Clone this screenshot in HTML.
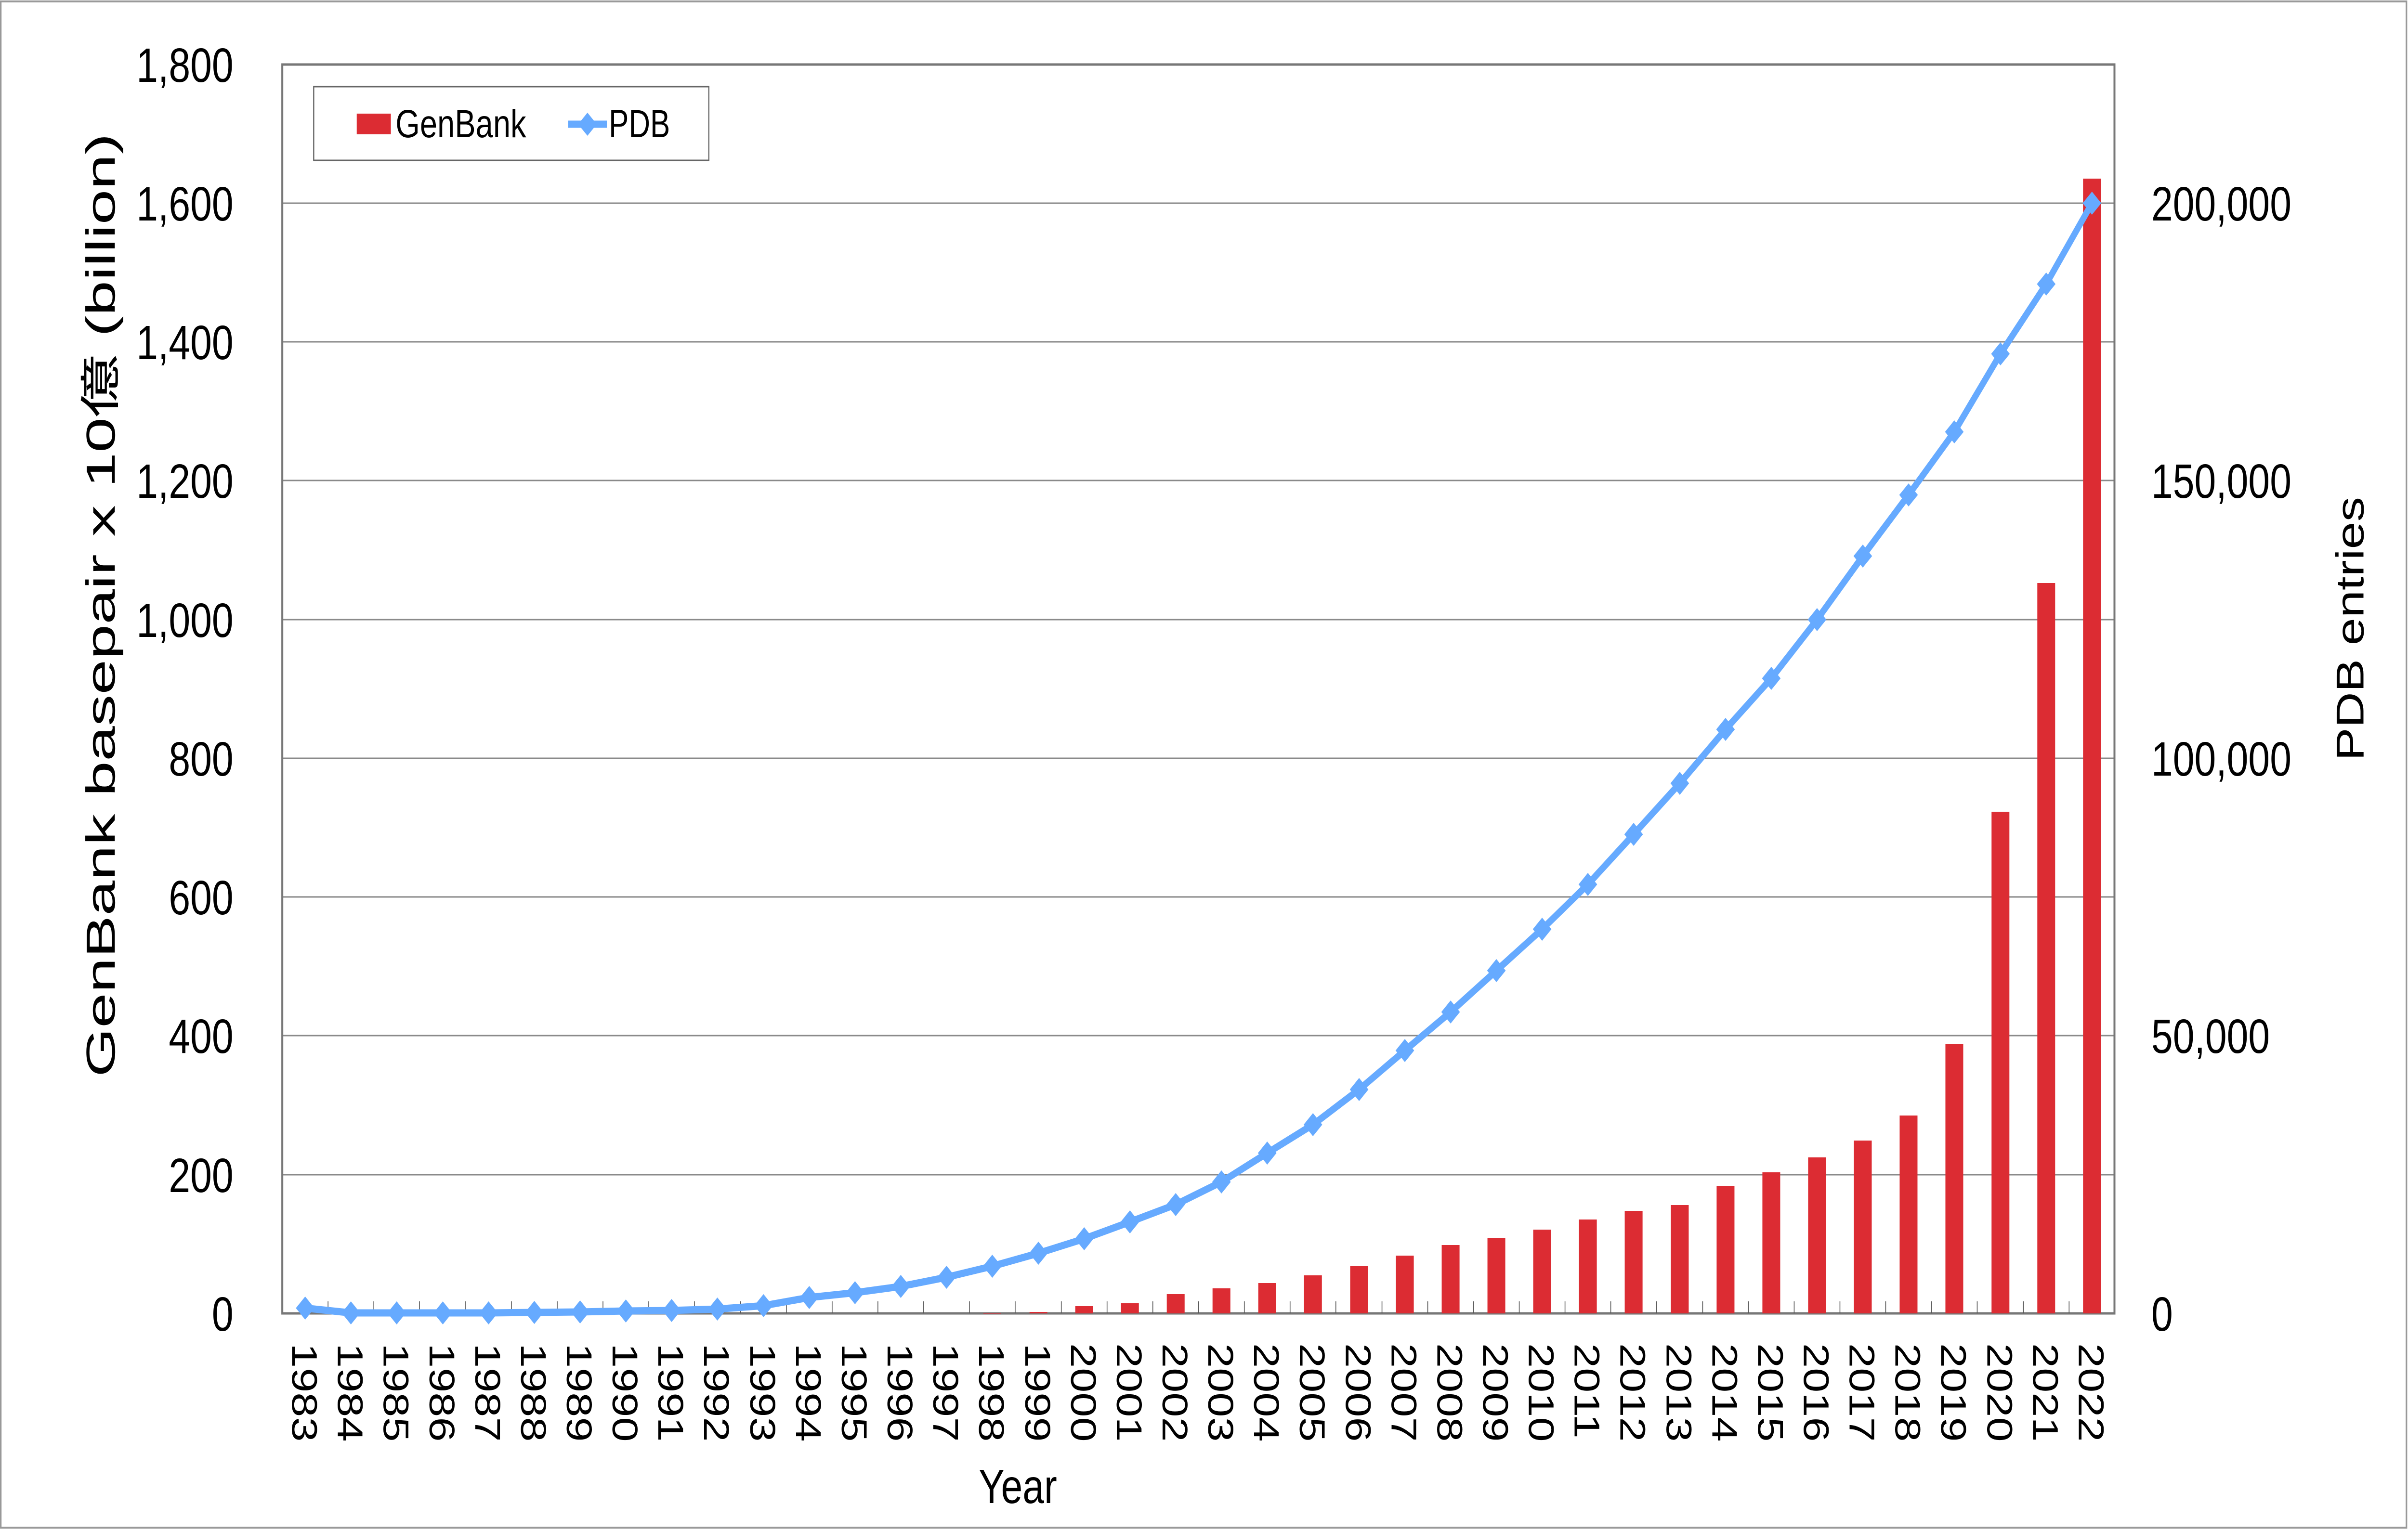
<!DOCTYPE html>
<html><head><meta charset="utf-8"><style>
html,body{margin:0;padding:0;background:#fff;width:100%;height:100%;overflow:hidden;}
svg{display:block;width:100vw;height:100vh;}
text{font-family:"Liberation Sans","Noto Sans CJK JP",sans-serif;fill:#000;}
</style></head><body>
<svg viewBox="0 0 6210 3180" preserveAspectRatio="none" xmlns="http://www.w3.org/2000/svg">
<defs><path id="d" d="M0,-24 L24,0 L0,24 L-24,0 Z" fill="#66AAFF"/></defs>
<rect x="2" y="3" width="6204" height="3170" fill="#fff" stroke="#999" stroke-width="4"/>
<g stroke="#8a8a8a" stroke-width="3">
<line x1="728" y1="422" x2="5453" y2="422"/>
<line x1="728" y1="710" x2="5453" y2="710"/>
<line x1="728" y1="998" x2="5453" y2="998"/>
<line x1="728" y1="1287" x2="5453" y2="1287"/>
<line x1="728" y1="1575" x2="5453" y2="1575"/>
<line x1="728" y1="1863" x2="5453" y2="1863"/>
<line x1="728" y1="2151" x2="5453" y2="2151"/>
<line x1="728" y1="2440" x2="5453" y2="2440"/>
</g>
<rect x="728" y="134" width="4725" height="2594" fill="none" stroke="#777" stroke-width="5"/>
<g fill="#DC2C33">
<rect x="2536" y="2727" width="46" height="1.4"/>
<rect x="2655" y="2725" width="46" height="3"/>
<rect x="2773" y="2713" width="46" height="15"/>
<rect x="2891" y="2707" width="46" height="21"/>
<rect x="3009" y="2688" width="46" height="40"/>
<rect x="3127" y="2676" width="46" height="52"/>
<rect x="3245" y="2665" width="46" height="63"/>
<rect x="3363" y="2649" width="46" height="79"/>
<rect x="3482" y="2630" width="46" height="98"/>
<rect x="3600" y="2608" width="46" height="120"/>
<rect x="3718" y="2586" width="46" height="142"/>
<rect x="3836" y="2571" width="46" height="157"/>
<rect x="3954" y="2554" width="46" height="174"/>
<rect x="4072" y="2533" width="46" height="195"/>
<rect x="4190" y="2515" width="46" height="213"/>
<rect x="4309" y="2503" width="46" height="225"/>
<rect x="4427" y="2463" width="46" height="265"/>
<rect x="4545" y="2435" width="46" height="293"/>
<rect x="4663" y="2404" width="46" height="324"/>
<rect x="4781" y="2369" width="46" height="359"/>
<rect x="4899" y="2317" width="46" height="411"/>
<rect x="5017" y="2169" width="46" height="559"/>
<rect x="5136" y="1686" width="46" height="1042"/>
<rect x="5254" y="1211" width="46" height="1517"/>
<rect x="5372" y="371" width="46" height="2357"/>
</g>
<g stroke="#555" stroke-width="2">
<line x1="846" y1="2703" x2="846" y2="2728"/><line x1="964" y1="2703" x2="964" y2="2728"/><line x1="1082" y1="2703" x2="1082" y2="2728"/><line x1="1201" y1="2703" x2="1201" y2="2728"/><line x1="1319" y1="2703" x2="1319" y2="2728"/><line x1="1437" y1="2703" x2="1437" y2="2728"/><line x1="1555" y1="2703" x2="1555" y2="2728"/><line x1="1673" y1="2703" x2="1673" y2="2728"/><line x1="1791" y1="2703" x2="1791" y2="2728"/><line x1="1910" y1="2703" x2="1910" y2="2728"/>
<line x1="2028" y1="2703" x2="2028" y2="2728"/><line x1="2146" y1="2703" x2="2146" y2="2728"/><line x1="2264" y1="2703" x2="2264" y2="2728"/><line x1="2382" y1="2703" x2="2382" y2="2728"/><line x1="2500" y1="2703" x2="2500" y2="2728"/><line x1="2618" y1="2703" x2="2618" y2="2728"/><line x1="2737" y1="2703" x2="2737" y2="2728"/><line x1="2855" y1="2703" x2="2855" y2="2728"/><line x1="2973" y1="2703" x2="2973" y2="2728"/><line x1="3091" y1="2703" x2="3091" y2="2728"/>
<line x1="3209" y1="2703" x2="3209" y2="2728"/><line x1="3327" y1="2703" x2="3327" y2="2728"/><line x1="3445" y1="2703" x2="3445" y2="2728"/><line x1="3564" y1="2703" x2="3564" y2="2728"/><line x1="3682" y1="2703" x2="3682" y2="2728"/><line x1="3800" y1="2703" x2="3800" y2="2728"/><line x1="3918" y1="2703" x2="3918" y2="2728"/><line x1="4036" y1="2703" x2="4036" y2="2728"/><line x1="4154" y1="2703" x2="4154" y2="2728"/><line x1="4272" y1="2703" x2="4272" y2="2728"/>
<line x1="4391" y1="2703" x2="4391" y2="2728"/><line x1="4509" y1="2703" x2="4509" y2="2728"/><line x1="4627" y1="2703" x2="4627" y2="2728"/><line x1="4745" y1="2703" x2="4745" y2="2728"/><line x1="4863" y1="2703" x2="4863" y2="2728"/><line x1="4981" y1="2703" x2="4981" y2="2728"/><line x1="5099" y1="2703" x2="5099" y2="2728"/><line x1="5218" y1="2703" x2="5218" y2="2728"/><line x1="5336" y1="2703" x2="5336" y2="2728"/>
</g>
<polyline fill="none" stroke="#66AAFF" stroke-width="15" stroke-linejoin="round" points="787,2717 905,2727 1023,2727 1142,2727 1260,2727 1378,2726 1496,2725 1614,2723 1732,2722 1850,2719 1969,2712 2087,2695 2205,2685 2323,2672 2441,2653 2559,2630 2678,2603 2796,2573 2914,2538 3032,2502 3150,2455 3268,2395 3386,2336 3505,2263 3623,2182 3741,2102 3859,2016 3977,1930 4095,1837 4213,1733 4332,1627 4450,1515 4568,1409 4686,1287 4804,1155 4922,1028 5040,897 5159,735 5277,590 5395,422"/>
<g>
<use href="#d" x="787" y="2717"/><use href="#d" x="905" y="2727"/><use href="#d" x="1023" y="2727"/><use href="#d" x="1142" y="2727"/><use href="#d" x="1260" y="2727"/><use href="#d" x="1378" y="2726"/><use href="#d" x="1496" y="2725"/><use href="#d" x="1614" y="2723"/><use href="#d" x="1732" y="2722"/><use href="#d" x="1850" y="2719"/>
<use href="#d" x="1969" y="2712"/><use href="#d" x="2087" y="2695"/><use href="#d" x="2205" y="2685"/><use href="#d" x="2323" y="2672"/><use href="#d" x="2441" y="2653"/><use href="#d" x="2559" y="2630"/><use href="#d" x="2678" y="2603"/><use href="#d" x="2796" y="2573"/><use href="#d" x="2914" y="2538"/><use href="#d" x="3032" y="2502"/>
<use href="#d" x="3150" y="2455"/><use href="#d" x="3268" y="2395"/><use href="#d" x="3386" y="2336"/><use href="#d" x="3505" y="2263"/><use href="#d" x="3623" y="2182"/><use href="#d" x="3741" y="2102"/><use href="#d" x="3859" y="2016"/><use href="#d" x="3977" y="1930"/><use href="#d" x="4095" y="1837"/><use href="#d" x="4213" y="1733"/>
<use href="#d" x="4332" y="1627"/><use href="#d" x="4450" y="1515"/><use href="#d" x="4568" y="1409"/><use href="#d" x="4686" y="1287"/><use href="#d" x="4804" y="1155"/><use href="#d" x="4922" y="1028"/><use href="#d" x="5040" y="897"/><use href="#d" x="5159" y="735"/><use href="#d" x="5277" y="590"/><use href="#d" x="5395" y="422"/>
</g>
<g font-size="100" text-anchor="end">
<text x="602" y="170">1,800</text>
<text x="602" y="458">1,600</text>
<text x="602" y="746">1,400</text>
<text x="602" y="1034">1,200</text>
<text x="602" y="1323">1,000</text>
<text x="602" y="1611">800</text>
<text x="602" y="1899">600</text>
<text x="602" y="2187">400</text>
<text x="602" y="2476">200</text>
<text x="602" y="2764">0</text>
</g>
<g font-size="100">
<text x="5548" y="2764">0</text>
<text x="5548" y="2187">50,000</text>
<text x="5548" y="1611">100,000</text>
<text x="5548" y="1034">150,000</text>
<text x="5548" y="458">200,000</text>
</g>
<g font-size="92">
<text transform="translate(753,2790) rotate(90)">1983</text>
<text transform="translate(871,2790) rotate(90)">1984</text>
<text transform="translate(989,2790) rotate(90)">1985</text>
<text transform="translate(1108,2790) rotate(90)">1986</text>
<text transform="translate(1226,2790) rotate(90)">1987</text>
<text transform="translate(1344,2790) rotate(90)">1988</text>
<text transform="translate(1462,2790) rotate(90)">1989</text>
<text transform="translate(1580,2790) rotate(90)">1990</text>
<text transform="translate(1698,2790) rotate(90)">1991</text>
<text transform="translate(1816,2790) rotate(90)">1992</text>
<text transform="translate(1935,2790) rotate(90)">1993</text>
<text transform="translate(2053,2790) rotate(90)">1994</text>
<text transform="translate(2171,2790) rotate(90)">1995</text>
<text transform="translate(2289,2790) rotate(90)">1996</text>
<text transform="translate(2407,2790) rotate(90)">1997</text>
<text transform="translate(2525,2790) rotate(90)">1998</text>
<text transform="translate(2644,2790) rotate(90)">1999</text>
<text transform="translate(2762,2790) rotate(90)">2000</text>
<text transform="translate(2880,2790) rotate(90)">2001</text>
<text transform="translate(2998,2790) rotate(90)">2002</text>
<text transform="translate(3116,2790) rotate(90)">2003</text>
<text transform="translate(3234,2790) rotate(90)">2004</text>
<text transform="translate(3352,2790) rotate(90)">2005</text>
<text transform="translate(3471,2790) rotate(90)">2006</text>
<text transform="translate(3589,2790) rotate(90)">2007</text>
<text transform="translate(3707,2790) rotate(90)">2008</text>
<text transform="translate(3825,2790) rotate(90)">2009</text>
<text transform="translate(3943,2790) rotate(90)">2010</text>
<text transform="translate(4061,2790) rotate(90)">2011</text>
<text transform="translate(4179,2790) rotate(90)">2012</text>
<text transform="translate(4298,2790) rotate(90)">2013</text>
<text transform="translate(4416,2790) rotate(90)">2014</text>
<text transform="translate(4534,2790) rotate(90)">2015</text>
<text transform="translate(4652,2790) rotate(90)">2016</text>
<text transform="translate(4770,2790) rotate(90)">2017</text>
<text transform="translate(4888,2790) rotate(90)">2018</text>
<text transform="translate(5006,2790) rotate(90)">2019</text>
<text transform="translate(5125,2790) rotate(90)">2020</text>
<text transform="translate(5243,2790) rotate(90)">2021</text>
<text transform="translate(5361,2790) rotate(90)">2022</text>
</g>
<text transform="translate(296,1257) rotate(-90)" font-size="105" text-anchor="middle" textLength="1960" lengthAdjust="spacingAndGlyphs">GenBank basepair x 10億 (billion)</text>
<text transform="translate(6095,1306) rotate(-90)" font-size="100" text-anchor="middle" textLength="548" lengthAdjust="spacingAndGlyphs">PDB entries</text>
<text x="2625" y="3122" font-size="100" text-anchor="middle">Year</text>
<rect x="809" y="180" width="1019" height="153" fill="#fff" stroke="#666" stroke-width="3"/>
<rect x="920" y="236" width="88" height="43" fill="#DC2C33"/>
<text x="1020" y="285" font-size="82" textLength="337" lengthAdjust="spacingAndGlyphs">GenBank</text>
<line x1="1465" y1="258" x2="1565" y2="258" stroke="#66AAFF" stroke-width="15"/>
<use href="#d" x="1515" y="258"/>
<text x="1570" y="285" font-size="82" textLength="158" lengthAdjust="spacingAndGlyphs">PDB</text>
</svg>
</body></html>
